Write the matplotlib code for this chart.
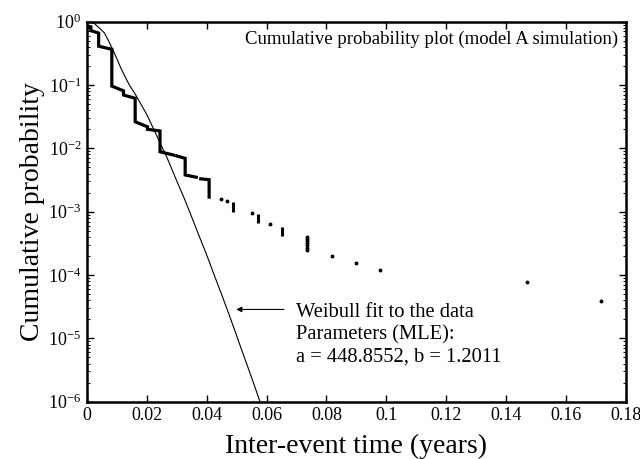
import matplotlib
matplotlib.use("Agg")
import matplotlib.pyplot as plt
import numpy as np
from matplotlib.ticker import FixedLocator, LogLocator, NullFormatter

plt.rcParams['font.family'] = ['Liberation Serif', 'DejaVu Serif']
plt.rcParams['mathtext.fontset'] = 'custom'
plt.rcParams['mathtext.rm'] = 'Liberation Serif'
plt.rcParams['mathtext.it'] = 'Liberation Serif:italic'

# empirical survival curve, head part (thick staircase), NaN = gap in the line
head_x = [0, 0, 0.0013, 0.0013, 0.0022, 0.0039, 0.0039, 0.0083, 0.0083, 0.0122, 0.0122,
          0.0161, 0.0161, 0.0202, 0.0202, 0.0244, 0.0244, 0.0289, np.nan, 0.0300, 0.0328,
          0.0328, 0.0365, np.nan, 0.0380, 0.0408, 0.0408]
head_p = [1.0, 0.86, 0.83, 0.72, 0.70, 0.66, 0.41, 0.366, 0.096, 0.081, 0.0695,
          0.0617, 0.0263, 0.0219, 0.0200, 0.0188, 0.00883, 0.00784, np.nan, 0.0076, 0.00695,
          0.0038, 0.0035, np.nan, 0.0033, 0.0032, 0.0017]

# tail: short vertical runs of tied values
bar_x = [0.0489, 0.0572, 0.0652]
bar_top = [0.00144, 0.00091, 0.00058]
bar_bot = [0.00100, 0.00066, 0.00041]

# tail: isolated points
dot_x = [0.0447, 0.0469, 0.0552, 0.0612, 0.0735, 0.0735, 0.0735, 0.0735, 0.0735, 0.0735,
         0.0735, 0.0820, 0.0898, 0.0978, 0.1470, 0.1716]
dot_p = [0.0016, 0.0015, 0.00096, 0.00063, 4.0e-4, 3.7e-4, 3.45e-4, 3.2e-4, 2.95e-4, 2.7e-4,
         2.5e-4, 2.0e-4, 1.55e-4, 1.2e-4, 7.7e-5, 3.9e-5]

# Weibull fit curve
fit_x = [0, 0.0008, 0.0015, 0.0025, 0.0035, 0.0046, 0.0058, 0.0071, 0.0085, 0.0099, 0.0113,
         0.0127, 0.0141, 0.0161, 0.018, 0.020, 0.0222, 0.0244, 0.0267, 0.030, 0.0325,
         0.035, 0.0375, 0.040, 0.0425, 0.045, 0.0475, 0.050, 0.0525, 0.055, 0.0578]
fit_p = [1.0, 0.995, 0.98, 0.93, 0.845, 0.76, 0.664, 0.51, 0.37, 0.265, 0.186,
         0.136, 0.101, 0.072, 0.050, 0.034, 0.0205, 0.0122, 0.0072, 0.00305, 0.00162,
         8.2e-4, 4.1e-4, 2.07e-4, 1.0e-4, 4.9e-5, 2.35e-5, 1.1e-5, 5.1e-6, 2.4e-6, 1.0e-6]

x_ticks = [0, 0.02, 0.04, 0.06, 0.08, 0.1, 0.12, 0.14, 0.16, 0.18]
x_tick_labels = ['0', '0.02', '0.04', '0.06', '0.08', '0.1', '0.12', '0.14', '0.16', '0.18']
y_ticks = [1e-6, 1e-5, 1e-4, 1e-3, 1e-2, 1e-1, 1e0]
y_tick_labels = ['$10^{-6}$', '$10^{-5}$', '$10^{-4}$', '$10^{-3}$', '$10^{-2}$', '$10^{-1}$', '$10^{0}$']

arrow_p = 10 ** (-(309.3 - 21.7) / 63.3)
label_p = 10 ** (-(302.5 - 21.7) / 63.3)

fig = plt.figure(figsize=(6.4, 4.59), dpi=100)
ax = fig.add_axes([0.1359, 0.1248, 0.842, 0.828])

ax.plot(fit_x, fit_p, color='black', lw=0.8)
ax.plot(head_x, head_p, color='black', lw=2.3, solid_joinstyle='miter')
ax.vlines(bar_x, bar_bot, bar_top, color='black', lw=2.2)
ax.plot(dot_x, dot_p, ls='none', marker='o', ms=1.8, color='black')

ax.set_yscale('log')
ax.set_xlim(0, 0.18)
ax.set_ylim(1e-6, 1)
ax.set_xticks(x_ticks)
ax.set_xticklabels(x_tick_labels)
ax.yaxis.set_major_locator(FixedLocator(y_ticks))
ax.set_yticklabels(y_tick_labels)
ax.yaxis.set_minor_locator(LogLocator(base=10, subs=np.arange(2, 10), numticks=20))
ax.yaxis.set_minor_formatter(NullFormatter())

ax.tick_params(axis='both', which='major', direction='in', length=5, width=1,
               top=True, right=True, labelsize=13, pad=4)
ax.tick_params(axis='y', which='minor', direction='in', length=2.5, width=0.7, right=True)
for s in ax.spines.values():
    s.set_linewidth(1.8)

ax.set_xlabel('Inter-event time (years)', fontsize=20, labelpad=7)
ax.set_ylabel('Cumulative probability', fontsize=20, labelpad=2)

ax.text(0.985, 0.975, 'Cumulative probability plot (model A simulation)', transform=ax.transAxes,
        ha='right', va='top', fontsize=13.5)

ax.annotate('', xy=(0.0489, arrow_p), xytext=(0.0667, arrow_p),
            arrowprops=dict(arrowstyle='-|>', color='black', lw=0.8, mutation_scale=8))
ax.text(0.0698, label_p, 'Weibull fit to the data\nParameters (MLE):\na = 448.8552, b = 1.2011',
        ha='left', va='top', fontsize=14.8, linespacing=1.22)

fig.savefig('out.png', dpi=100)
